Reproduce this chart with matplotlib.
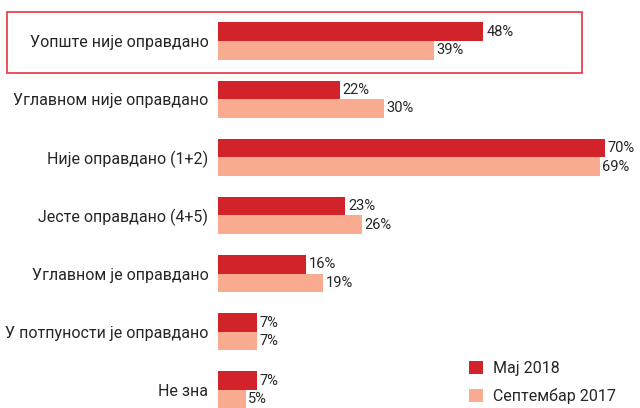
import matplotlib
matplotlib.use("Agg")
import matplotlib.pyplot as plt
from matplotlib.patches import Rectangle
import numpy as np

plt.rcParams['font.family'] = ['Roboto', 'DejaVu Sans']

categories = [
    "Уопште није оправдано",
    "Углавном није оправдано",
    "Није оправдано (1+2)",
    "Јесте оправдано (4+5)",
    "Углавном је оправдано",
    "У потпуности је оправдано",
    "Не зна",
]
may_2018 = [48, 22, 70, 23, 16, 7, 7]
sep_2017 = [39, 30, 69, 26, 19, 7, 5]
series_names = ["Мај 2018", "Септембар 2017"]

red = "#d2232a"
salmon = "#f9ab8f"
text_col = "#262626"

fig = plt.figure(figsize=(6.4, 4.08), dpi=100)
ax = fig.add_axes([218 / 640, 0, 1 - 218 / 640, 1])

y = np.arange(len(categories))
h = 0.32
b1 = ax.barh(y - h / 2, may_2018, height=h, color=red, label=series_names[0])
b2 = ax.barh(y + h / 2, sep_2017, height=h, color=salmon, label=series_names[1])

for bars, vals in ((b1, may_2018), (b2, sep_2017)):
    for bar, v in zip(bars, vals):
        ax.annotate(f"{v}%", (bar.get_width(), bar.get_y() + bar.get_height() / 2),
                    xytext=(2, 0), textcoords="offset points",
                    va="center", ha="left", fontsize=10.5, color=text_col)

ax.set_xlim(0, 76.3)
ax.set_ylim(6.31, -0.705)
ax.set_yticks(y)
ax.set_yticklabels(categories, fontsize=11.5, color=text_col)
ax.tick_params(axis="y", length=0, pad=7)
ax.set_xticks([])
for s in ax.spines.values():
    s.set_visible(False)

fig.legend(handles=[b1, b2], loc="lower right", bbox_to_anchor=(0.985, -0.025),
           frameon=False, fontsize=11.5, handlelength=0.9, handleheight=0.9,
           labelcolor=text_col, handletextpad=0.6, labelspacing=0.75)

fig.patches.append(Rectangle((7 / 640, 1 - 73 / 408), 575 / 640, 61 / 408,
                             transform=fig.transFigure, fill=False,
                             edgecolor="#e8434f", linewidth=1.3))

fig.savefig("out.png", dpi=100)
